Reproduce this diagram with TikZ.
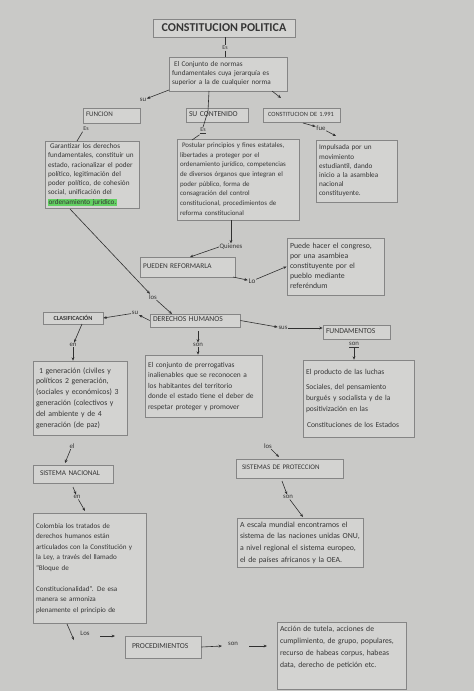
\documentclass[tikz,border=0pt]{standalone}
\usepackage{fontspec}
\setmainfont{Carlito}
\usetikzlibrary{arrows.meta,calc}
\definecolor{paper}{HTML}{C9C9C7}
\definecolor{boxf}{HTML}{D3D3D1}
\definecolor{boxc}{HTML}{858585}
\definecolor{txt}{HTML}{363636}
\definecolor{linec}{HTML}{303030}
\definecolor{hl}{HTML}{62D062}
\newcommand{\fs}[2]{\fontsize{#1}{#2}\selectfont}
\newcommand{\tl}[1]{\begin{tabular}{@{}l@{}}#1\end{tabular}}
\begin{document}
\begin{tikzpicture}[x=1pt,y=-1pt,
  bx/.style={draw=boxc, line width=0.6pt, fill=boxf, inner xsep=3pt, inner ysep=1pt, align=left, text=txt},
  lbl/.style={inner sep=0.6pt, text=txt, font=\fs{6.8}{7}},
  arr/.style={draw=linec, line width=0.6pt, -{Stealth[length=3.4pt,width=2.8pt]}},
  ln/.style={draw=linec, line width=0.6pt}]
\fill[paper] (0,0) rectangle (474,691);
\useasboundingbox (0,0) rectangle (474,691);

% ---------- boxes ----------
\node[bx, align=center, minimum width=142, minimum height=18, font=\bfseries\fs{12}{13}] (title) at (224,28) {CONSTITUCION POLITICA};
\node[bx, text width=112, minimum height=34, font=\fs{7.2}{9}] (def) at (228,74) {\tl{\hspace{2pt}El Conjunto de normas\\fundamentales cuya jerarquía es\\superior a la de cualquier norma}};
\node[bx, text width=51, minimum height=15, font=\fs{7}{7}] (funcion) at (111.5,115.5) {\tl{FUNCION}};
\node[bx, text width=88, minimum height=67, font=\fs{7.2}{9.3}] (funtext) at (92,174.5) {\tl{\hspace{2pt}Garantizar los derechos\\fundamentales, constituir un\\estado, racionalizar el poder\\político, legitimación del\\poder político, de cohesión\\social, unificación del\\{\setlength{\fboxsep}{0.6pt}\colorbox{hl}{ordenamiento jurídico.}}}};
\node[bx, text width=56, minimum height=14, font=\fs{7.6}{7}] (contl) at (217,115) {\tl{SU CONTENIDO}};
\node[bx, text width=116, minimum height=81, font=\fs{6.9}{9.7}] (conttext) at (238,179.5) {\tl{\hspace{2pt}Postular principios y fines estatales,\\libertades a proteger por el\\ordenamiento jurídico, competencias\\de diversos órganos que integran el\\poder público, forma de\\consagración del control\\constitucional, procedimientos de\\reforma constitucional}};
\node[bx, text width=71, minimum height=14, font=\fs{6.4}{7}] (c1991) at (301.5,115) {\tl{\hspace{2pt}CONSTITUCION DE 1.991}};
\node[bx, text width=75, minimum height=62, font=\fs{7.2}{9.2}] (impul) at (356.5,171) {\tl{Impulsada por un\\movimiento\\estudiantil, dando\\inicio a la asamblea\\nacional\\constituyente.}};
\node[bx, text width=89, minimum height=20, font=\fs{7.3}{8}] (pueden) at (187.5,267) {\tl{PUEDEN REFORMARLA}};
\node[bx, text width=91, minimum height=57, font=\fs{7.8}{10.2}] (puede) at (335.5,266.5) {\tl{Puede hacer el congreso,\\por una asambiea\\constituyente por el\\pueblo mediante\\referéndum}};
\node[bx, text width=84, minimum height=13, font=\fs{7.6}{7}] (dh) at (195,320.5) {\tl{DERECHOS HUMANOS}};
\node[bx, align=center, text width=54, minimum height=12, font=\bfseries\fs{6.2}{6.5}] (clasif) at (73,318) {CLASIFICACIÓN};
\node[bx, text width=61, minimum height=14, font=\fs{7.6}{8}] (fundam) at (356.5,332) {\tl{FUNDAMENTOS}};
\node[bx, text width=88, minimum height=74, font=\fs{7.8}{10.8}] (clastext) at (80,398) {\tl{\hspace{3pt}1 generación (civiles y\\políticos 2 generación,\\(sociales y económicos) 3\\generación (colectivos y\\del ambiente y de 4\\generación (de paz)}};
\node[bx, text width=111, minimum height=62, font=\fs{7.4}{10.5}] (dhtext) at (203.5,386) {\tl{El conjunto de prerrogativas\\inalienables que se reconocen a\\los habitantes del territorio\\donde el estado tiene el deber de\\respetar proteger y promover}};
\node[bx, text width=105, minimum height=77, font=\fs{7.5}{10.8}] (fundtext) at (358.5,398.5) {\tl{El producto de las luchas\\[5pt]Sociales, del pensamiento\\burgués y socialista y de la\\positivización en las\\[5pt]\hspace{1pt}Constituciones de los Estados}};
\node[bx, text width=74, minimum height=18, font=\fs{7.3}{8}] (sisnac) at (73,474) {\tl{\hspace{4pt}SISTEMA NACIONAL}};
\node[bx, text width=101, minimum height=19, font=\fs{7}{7}] (sisprot) at (289.5,468.5) {\tl{\hspace{3pt}SISTEMAS DE PROTECCION}};
\node[bx, text width=120, minimum height=49, font=\fs{7.8}{11.7}] (sptext) at (300,542.5) {\tl{A escala mundial encontramos el\\sistema de las naciones unidas ONU,\\a nivel regional el sistema europeo,\\el de países africanos y la OEA.}};
\node[bx, text width=107, minimum height=110, font=\fs{7.1}{10.5}] (colombia) at (89.5,568) {\tl{Colombia los tratados de\\derechos humanos están\\articulados con la Constitución y\\la Ley, a través del llamado\\``Bloque de\\[10.5pt]Constitucionalidad''. De esa\\manera se armoniza\\plenamente el principio de}};
\node[bx, text width=70, minimum height=22, font=\fs{7.6}{8}] (proced) at (163,647) {\tl{\hspace{4pt}PROCEDIMIENTOS}};
\node[bx, text width=123, minimum height=66, font=\fs{7.7}{11.7}] (accion) at (341.5,656) {\tl{Acción de tutela, acciones de\\cumplimiento, de grupo, populares,\\recurso de habeas corpus, habeas\\data, derecho de petición etc.\\[6pt]\mbox{}}};

% ---------- labels ----------
\node[lbl, font=\fs{6}{6}] (es1) at (225,48) {Es};
\node[lbl] (su1) at (143,100) {su};
\node[lbl, font=\fs{6}{6}] (es2) at (86,129) {Es};
\node[lbl, font=\fs{6}{6}] (es3) at (203,131) {\underline{Es}};
\node[lbl] (fue) at (321,128) {fue};
\node[lbl] (quienes) at (231,247) {Quienes};
\node[lbl, font=\fs{7.2}{7}] (lo) at (252,281) {Lo};
\node[lbl] (los1) at (153,297) {los};
\node[lbl] (su2) at (135,313) {su};
\node[lbl] (sus) at (283,328) {sus};
\node[lbl] (en1) at (73,345) {en};
\node[lbl] (son1) at (198,345) {son};
\node[lbl] (son2) at (354,345) {\underline{son}};
\node[lbl] (el1) at (72,446) {el};
\node[lbl] (los2) at (268,446) {los};
\node[lbl] (en2) at (77,497) {en};
\node[lbl] (son3) at (288,497) {son};
\node[lbl] (los3) at (85,633) {Los};
\node[lbl] (son4) at (233,644) {son};

% ---------- coordinates ----------
\coordinate (d1) at (169,90);
\coordinate (d2) at (272,91);
\coordinate (d3) at (281,98);
\coordinate (d4) at (209,91);
\coordinate (d5) at (208,111);
\coordinate (c1) at (192,140);
\coordinate (f1) at (77,141);
\coordinate (g1) at (303,123);
\coordinate (g2) at (336,136);
\coordinate (p1) at (190,257);
\coordinate (p2) at (233,277);
\coordinate (f2) at (70,209);
\coordinate (h1) at (172,314);
\coordinate (h2) at (82,324);
\coordinate (h3) at (198,331);
\coordinate (s1) at (65,463);
\coordinate (s2) at (73,487);
\coordinate (s3) at (85,511);
\coordinate (t1) at (279,457);
\coordinate (t2) at (282,481);
\coordinate (t3) at (303,517);
\coordinate (k1) at (67,624);
\coordinate (k2) at (74,640);
\coordinate (k3) at (100,636);
\coordinate (k4) at (115,636);
\coordinate (k5) at (222,646);
\coordinate (k6) at (249,646);
\coordinate (k7) at (267,646);

% ---------- connectors ----------
\draw[ln] (es1 |- title.south) -- (es1.north);
\draw[ln] (es1.south) -- (es1 |- def.north);
\draw[arr] (d1) -- (su1);
\draw[arr] (d2) -- (d3);
\draw[ln] (d4) -- (d5) -- (es3.north);
\draw[ln] (es3.south west) -- (c1);
\draw[ln] (es2.south west) -- (f1);
\draw[arr] (g1) -- (fue);
\draw[arr] (fue) -- (g2);
\draw[arr] (quienes |- conttext.south) -- (quienes.north);
\draw[arr] (quienes.west) -- (p1);
\draw[arr] (p2) -- (lo);
\draw[arr] (lo) -- (puede.west);
\draw[arr] (f2) -- (los1);
\draw[arr] (los1) -- (h1);
\draw[arr] (dh.west) -- (su2);
\draw[arr] (su2) -- (clasif.east);
\draw[arr] (dh.east) -- (sus);
\draw[arr] (sus) -- (sus -| fundam.west);
\draw[arr] (h2) -- (en1);
\draw[arr] (en1) -- (en1 |- clastext.north);
\draw[arr] (h3) -- (son1.north);
\draw[arr] (son1.south) -- (son1 |- dhtext.north);
\draw[arr] (son2) -- (son2 |- fundtext.north);
\draw[arr] (el1) -- (s1);
\draw[arr] (s2) -- (en2);
\draw[arr] (en2) -- (s3);
\draw[arr] (los2) -- (t1);
\draw[arr] (t2) -- (son3);
\draw[arr] (son3) -- (t3);
\draw[arr] (k1) -- (k2);
\draw[arr] (k3) -- (k4);
\draw[arr] (proced.east) -- (k5);
\draw[arr] (k6) -- (k7);
\end{tikzpicture}
\end{document}
